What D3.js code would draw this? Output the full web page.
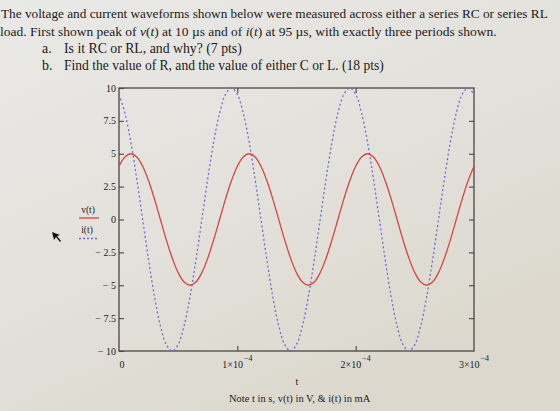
<!DOCTYPE html>
<html>
<head>
<meta charset="utf-8">
<script src="https://cdn.jsdelivr.net/npm/d3@7"></script>
<style>
html,body{margin:0;padding:0;background:#e4e3df;}
svg{display:block;}
text{font-family:"Liberation Serif","Times New Roman",serif;fill:#1c1a1a;}
</style>
</head>
<body>
<svg id="chart" width="560" height="411"></svg>
<script>
// time samples in microseconds
const timeUs = d3.range(0, 301, 5);
// v(t) in V (peak 5 at 10 us, period 100 us)
const vValues = [
  4.05, 4.76, 5, 4.76, 4.05, 2.94, 1.55, 0, -1.55, -2.94, -4.05, -4.76, -5, -4.76, -4.05, -2.94, -1.55, 0, 1.55, 2.94,
  4.05, 4.76, 5, 4.76, 4.05, 2.94, 1.55, 0, -1.55, -2.94, -4.05, -4.76, -5, -4.76, -4.05, -2.94, -1.55, 0, 1.55, 2.94,
  4.05, 4.76, 5, 4.76, 4.05, 2.94, 1.55, 0, -1.55, -2.94, -4.05, -4.76, -5, -4.76, -4.05, -2.94, -1.55, 0, 1.55, 2.94,
  4.05
];
// i(t) in mA (peak 10 at 95 us)
const iValues = [
  9.51, 8.09, 5.88, 3.09, 0, -3.09, -5.88, -8.09, -9.51, -10, -9.51, -8.09, -5.88, -3.09, 0, 3.09, 5.88, 8.09, 9.51, 10,
  9.51, 8.09, 5.88, 3.09, 0, -3.09, -5.88, -8.09, -9.51, -10, -9.51, -8.09, -5.88, -3.09, 0, 3.09, 5.88, 8.09, 9.51, 10,
  9.51, 8.09, 5.88, 3.09, 0, -3.09, -5.88, -8.09, -9.51, -10, -9.51, -8.09, -5.88, -3.09, 0, 3.09, 5.88, 8.09, 9.51, 10,
  9.51
];
const yTicks = [10, 7.5, 5, 2.5, 0, -2.5, -5, -7.5, -10];
const yTickLabels = ["10", "7.5", "5", "2.5", "0", "\u2212 2.5", "\u2212 5", "\u2212 7.5", "\u2212 10"];
const xTicks = [0, 1e-4, 2e-4, 3e-4];
const xTickMantissa = ["0", "1\u00d710", "2\u00d710", "3\u00d710"];
const xTickExp = ["", "\u22124", "\u22124", "\u22124"];

const svg = d3.select("#chart");
const defs = svg.append("defs");
const grad = defs.append("linearGradient").attr("id", "bg").attr("x1", 0).attr("y1", 0).attr("x2", 0.6).attr("y2", 1);
grad.append("stop").attr("offset", 0).attr("stop-color", "#e9e9e7");
grad.append("stop").attr("offset", 0.55).attr("stop-color", "#e3e1db");
grad.append("stop").attr("offset", 1).attr("stop-color", "#dcd8cd");
svg.append("rect").attr("width", 560).attr("height", 411).attr("fill", "url(#bg)");

// fit a text's font size so that it spans the given width
function fit(sel, width) {
  const w = sel.node().getComputedTextLength();
  const fs = +sel.attr("font-size");
  sel.attr("font-size", (fs * width / w).toFixed(2));
  return sel;
}

// Title text
fit(svg.append("text").attr("x", 1).attr("y", 18).attr("font-size", 14)
  .text("The voltage and current waveforms shown below were measured across either a series RC or series RL"), 547);
const t2 = svg.append("text").attr("x", 0).attr("y", 36).attr("font-size", 14);
t2.append("tspan").text("load.  First shown peak of ");
t2.append("tspan").attr("font-style", "italic").text("v");
t2.append("tspan").text("(");
t2.append("tspan").attr("font-style", "italic").text("t");
t2.append("tspan").text(") at 10 \u00b5s and of ");
t2.append("tspan").attr("font-style", "italic").text("i");
t2.append("tspan").text("(");
t2.append("tspan").attr("font-style", "italic").text("t");
t2.append("tspan").text(") at 95 \u00b5s, with exactly three periods shown.");
fit(t2, 497);
svg.append("text").attr("x", 42).attr("y", 53).attr("font-size", 14).text("a.");
fit(svg.append("text").attr("x", 64).attr("y", 53).attr("font-size", 14)
  .text("Is it RC or RL, and why?  (7 pts)"), 178);
svg.append("text").attr("x", 42).attr("y", 70).attr("font-size", 14).text("b.");
fit(svg.append("text").attr("x", 64).attr("y", 70).attr("font-size", 14)
  .text("Find the value of R, and the value of either C or L.  (18 pts)"), 320);

// Plot
const L = 119, R = 474, T = 88, B = 351;
const x = d3.scaleLinear().domain([0, 3e-4]).range([L, R]);
const y = d3.scaleLinear().domain([-10, 10]).range([B, T]);

const frameColor = "#4d4444";
svg.append("rect").attr("x", L).attr("y", T).attr("width", R - L).attr("height", B - T)
  .attr("fill", "none").attr("stroke", frameColor).attr("stroke-width", 1.3);

// axis ticks (inward)
const g = svg.append("g");
g.append("g").attr("transform", `translate(${L},0)`)
  .call(d3.axisRight(y).tickValues(yTicks).tickSize(5).tickFormat(""));
g.append("g").attr("transform", `translate(${R},0)`)
  .call(d3.axisLeft(y).tickValues(yTicks.slice(1, -1)).tickSize(5).tickFormat(""));
g.append("g").attr("transform", `translate(0,${T})`)
  .call(d3.axisBottom(x).tickValues(xTicks.slice(1, 3)).tickSize(5).tickFormat(""));
g.append("g").attr("transform", `translate(0,${B})`)
  .call(d3.axisTop(x).tickValues(xTicks.slice(1, 3)).tickSize(5).tickFormat(""));
g.selectAll(".domain").remove();
g.selectAll(".tick line").attr("stroke", frameColor).attr("stroke-width", 1.1);

// y tick labels
svg.append("g").selectAll("text").data(yTicks).join("text")
  .attr("x", L - 3).attr("y", d => y(d) + 3.5)
  .attr("text-anchor", "end").attr("font-size", 10)
  .text((d, k) => yTickLabels[k]);

// x tick labels
const xl = svg.append("g").selectAll("text").data(xTicks).join("text")
  .attr("x", (d, k) => x(d) + (k === 0 ? 3 : 0)).attr("y", 368)
  .attr("text-anchor", "middle").attr("font-size", 10);
xl.append("tspan").text((d, k) => xTickMantissa[k]);
xl.append("tspan").attr("dy", -7).attr("dx", 1).attr("font-size", 8).text((d, k) => xTickExp[k]);

svg.append("text").attr("x", 297).attr("y", 385).attr("text-anchor", "middle").attr("font-size", 10).text("t");
svg.append("text").attr("x", 229).attr("y", 402).attr("font-size", 10.5)
  .text("Note t in s, v(t) in V, & i(t) in mA");

// curves
const vData = timeUs.map((t, k) => ({t: t * 1e-6, v: vValues[k]}));
const iData = timeUs.map((t, k) => ({t: t * 1e-6, v: iValues[k]}));
const line = d3.line().x(d => x(d.t)).y(d => y(d.v)).curve(d3.curveCatmullRom);

svg.append("path").datum(iData).attr("d", line)
  .attr("fill", "none").attr("stroke", "#6c6bd4").attr("stroke-width", 1.3)
  .attr("stroke-dasharray", "2,2.5");
svg.append("path").datum(vData).attr("d", line)
  .attr("fill", "none").attr("stroke", "#d9443f").attr("stroke-width", 1.3);

// legend
svg.append("text").attr("x", 88).attr("y", 213).attr("text-anchor", "middle").attr("font-size", 9.5).text("v(t)");
svg.append("line").attr("x1", 79).attr("x2", 99).attr("y1", 218).attr("y2", 218)
  .attr("stroke", "#d9443f").attr("stroke-width", 1.3);
svg.append("text").attr("x", 87).attr("y", 233).attr("text-anchor", "middle").attr("font-size", 9.5).text("i(t)");
svg.append("line").attr("x1", 79).attr("x2", 99).attr("y1", 238.5).attr("y2", 238.5)
  .attr("stroke", "#6c6bd4").attr("stroke-width", 1.3).attr("stroke-dasharray", "2,2");

// mouse cursor
svg.append("path").attr("d", "M52,232 L60,235 L57,236 L61,241 L60,242 L56,237 L54,240 Z")
  .attr("fill", "#111");
</script>
</body>
</html>
